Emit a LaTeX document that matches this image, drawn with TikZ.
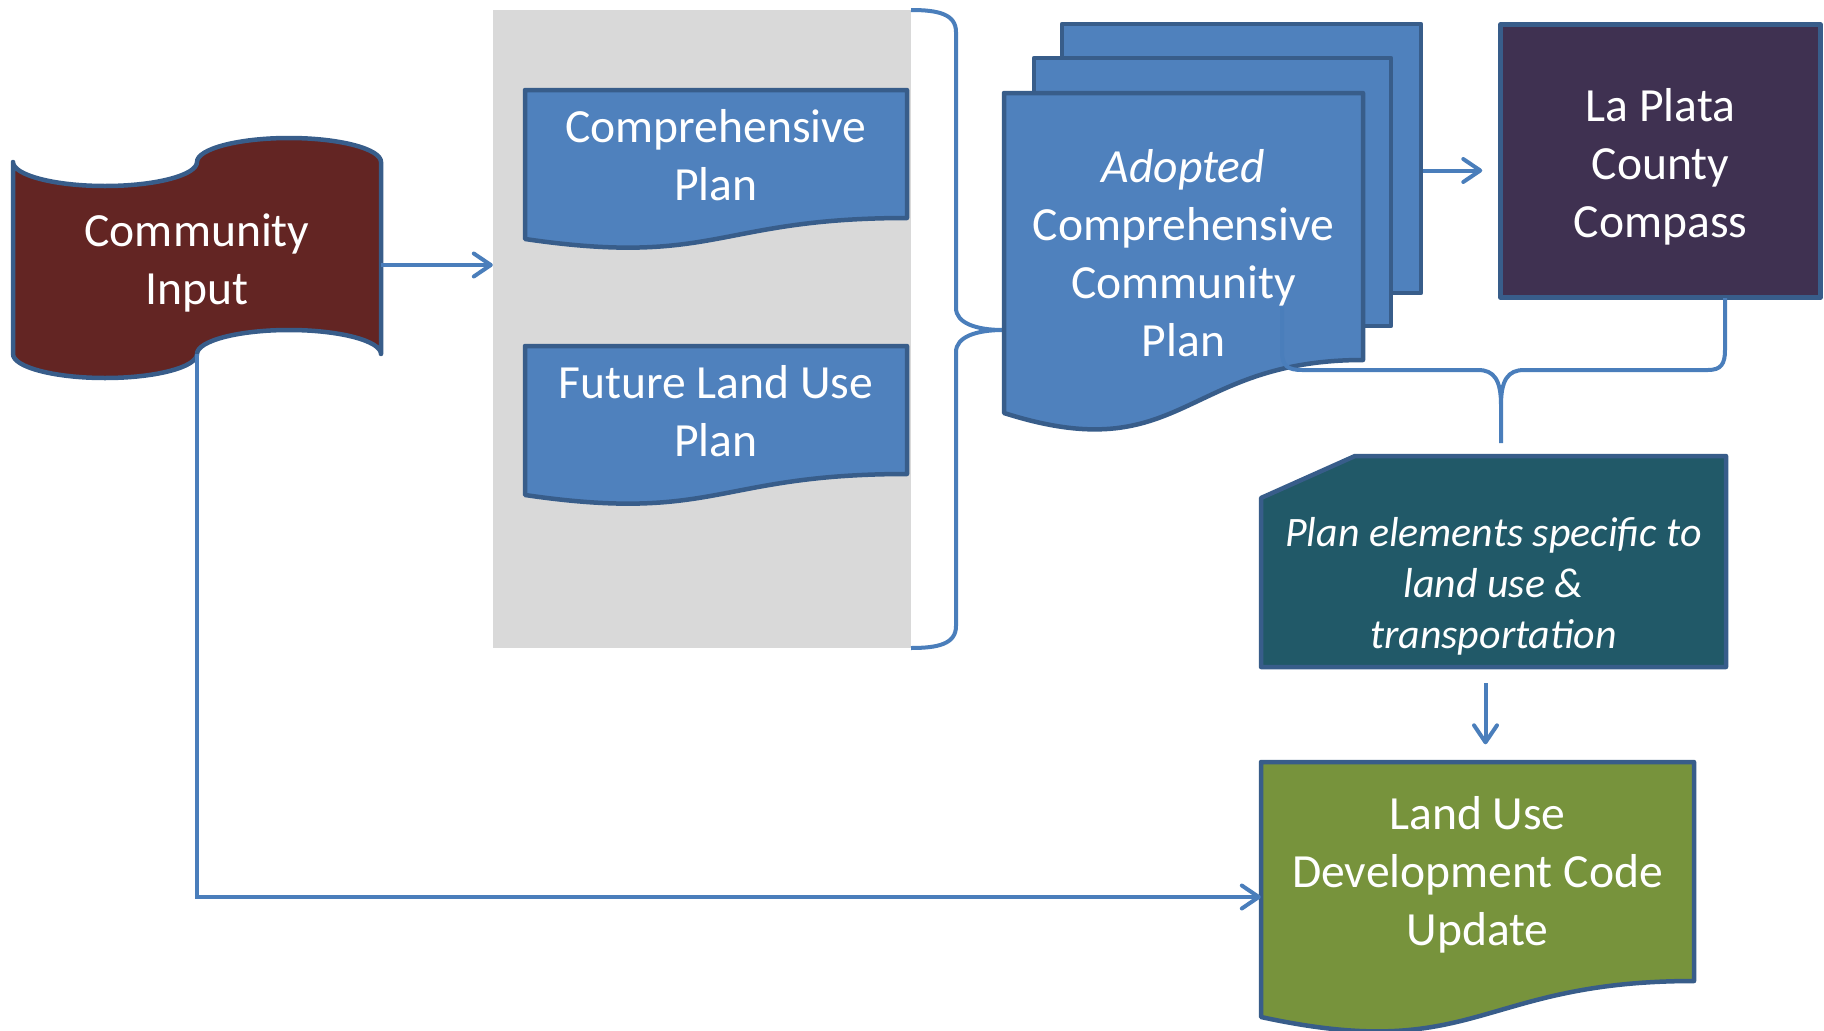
\documentclass[tikz,border=0pt]{standalone}
\usepackage{fontspec}
\setmainfont{Carlito}
\usetikzlibrary{arrows.meta,calc}
\definecolor{docblue}{HTML}{4F81BD}
\definecolor{edgeblue}{HTML}{385D8A}
\definecolor{linkblue}{HTML}{4A7EBB}
\definecolor{inputred}{HTML}{632523}
\definecolor{compassplum}{HTML}{3F3151}
\definecolor{elemteal}{HTML}{215968}
\definecolor{codegreen}{HTML}{77933C}
\definecolor{packgray}{HTML}{D9D9D9}
\tikzset{
  sheet/.style={fill=#1, draw=edgeblue, line width=4.5pt, line join=round},
  words/.style={text=white, align=center, inner sep=0pt, font=\fontsize{47.6}{58}\selectfont},
  link/.style={draw=linkblue, line width=4pt},
  arr/.style={link, -{Straight Barb[length=17pt,width=23pt,round]}},
}
\begin{document}
\begin{tikzpicture}[x=1pt, y=-1pt]
      % \draw[step=100, gray, very thin] (0, 0) grid (1824, 1031);
      \useasboundingbox (0,0) rectangle (1824,1031);

      \node[fill=packgray, inner sep=0pt, minimum width=418pt, minimum height=638pt] (pack) at (702,329) {};

      \draw[sheet=inputred] (13,162) .. controls (13,175) and (54,186) .. (105,186) .. controls (156,186) and (197,175) .. (197,162)
        .. controls (197,149) and (238,138) .. (289,138) .. controls (340,138) and (381,149) .. (381,162) -- (381,354)
        .. controls (381,341) and (340,330) .. (289,330) .. controls (238,330) and (197,341) .. (197,354)
        .. controls (197,367) and (156,378) .. (105,378) .. controls (54,378) and (13,367) .. (13,354) -- cycle;
      \node[words, minimum width=368pt, minimum height=182pt] (comm) at (197,263) {Community\\Input};

      \draw[sheet=docblue] (525,90) -- (907,90) -- (907,218) .. controls (716,218) and (716,267) .. (525,239) -- cycle;
      \node[words, minimum width=382pt, minimum height=128pt] (comp) at (716,155) {Comprehensive\\Plan};
      \draw[sheet=docblue] (525,346) -- (907,346) -- (907,474) .. controls (716,474) and (716,523) .. (525,495) -- cycle;
      \node[words, minimum width=382pt, minimum height=128pt] (flu) at (716,411) {Future Land Use\\Plan};

      \draw[link] (911,10) .. controls (938,10) and (956,14) .. (956,32) -- (956,308) .. controls (956,323) and (976,330) .. (1003,330)
        .. controls (976,330) and (956,337) .. (956,352) -- (956,626) .. controls (956,644) and (938,648) .. (911,648);

      \node[sheet=docblue, inner sep=0pt, minimum width=359pt, minimum height=269pt] (back) at (1241.5,158.5) {};
      \node[sheet=docblue, inner sep=0pt, minimum width=357pt, minimum height=268pt] (middle) at (1212.5,192) {};
      \draw[sheet=docblue] (1004,93) -- (1363,93) -- (1363,360) .. controls (1183,360) and (1183,470) .. (1004,413) -- cycle;
      \node[words, minimum width=359pt, minimum height=320pt] (front) at (1183.5,253) {\textit{Adopted}\\Comprehensive\\Community\\Plan};

      \node[sheet=compassplum, inner sep=0pt, minimum width=320pt, minimum height=273pt] (lap) at (1660.5,161) {};
      \node[words] (laptext) at ([yshift=-6pt]lap.center) {La Plata\\County\\Compass};

      \draw[link] (1282,307) -- (1282,352) .. controls (1282,366) and (1288,370) .. (1302,370) -- (1478,370)
        .. controls (1494,370) and (1501,380) .. (1501,405) -- (1501,443)
        (1501,405) .. controls (1501,380) and (1508,370) .. (1524,370) -- (1708,370)
        .. controls (1721,370) and (1725,364) .. (1725,350) -- (1725,298);

      \draw[sheet=elemteal] (1355,456) -- (1726,456) -- (1726,667) -- (1261,667) -- (1261,498) -- cycle;
      \node[words, font=\itshape\fontsize{41.9}{51}\selectfont, minimum width=465pt, minimum height=169pt] (elem) at (1493.5,582.5) {};
      \node[words, font=\itshape\fontsize{41.9}{51}\selectfont] (elemtext) at ([yshift=-4pt]elem.center)
        {Plan elements specific to\\land use \&\\transportation};

      \draw[sheet=codegreen] (1261,762) -- (1694,762) -- (1694,981) .. controls (1477.5,981) and (1477.5,1064) .. (1261,1017) -- cycle;
      \node[words, minimum width=433pt, minimum height=219pt] (lud) at (1477.5,875) {Land Use\\Development Code\\Update};

      \draw[arr] ([yshift=-2pt]comm.east) -- ([yshift=-2pt]comm.east -| pack.west);
      \draw[arr, shorten >=16pt] ([yshift=-12pt]back.east) -- ([yshift=-12pt]back.east -| lap.west);
      \draw[arr, shorten <=16pt, shorten >=21pt] ([xshift=-8pt]elem.south) -- ([xshift=-8pt]elem.south |- lud.north);
      \draw[arr] (comm.south) |- ([yshift=-22pt]lud.west);
    \end{tikzpicture}
\end{document}
